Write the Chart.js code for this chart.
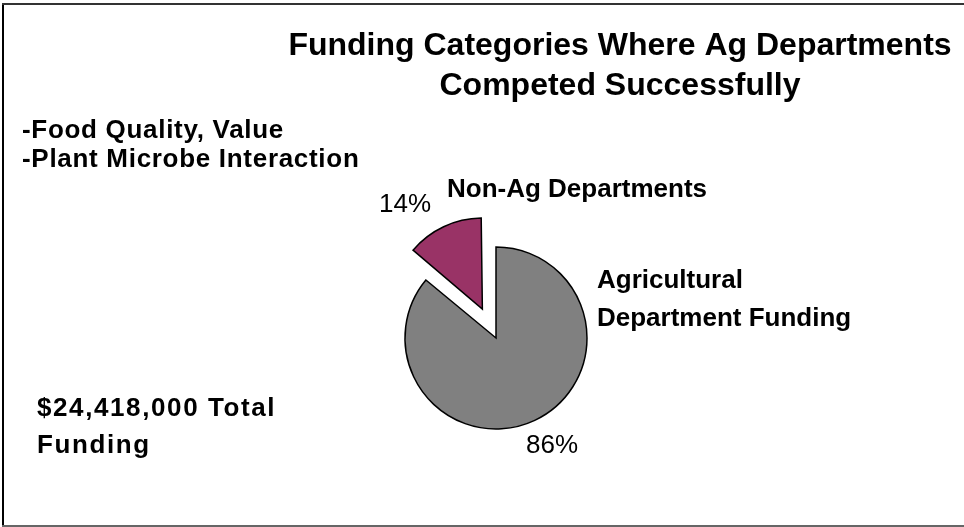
<!DOCTYPE html>
<html lang="en">
<head>
  <meta charset="UTF-8" />
  <title>Funding Categories</title>
  <style>
    html, body {
      margin: 0;
      padding: 0;
      background: #fff;
    }
    canvas {
      display: block;
    }
  </style>
  <script src="https://cdn.jsdelivr.net/npm/chart.js"></script>
</head>
<body>
  <canvas id="fundingChart" width="964" height="527"></canvas>

  <script>
    // Slice data
    const categories = ["Agricultural Department Funding", "Non-Ag Departments"];
    const shares = [86, 14];
    const sliceColors = ["#808080", "#993366"];
    const explode = [0, 128];  // pulled-out Non-Ag slice

    // Text on the slide
    const titleLines = ["Funding Categories Where Ag Departments", "Competed Successfully"];
    const focusAreas = ["-Food Quality, Value", "-Plant Microbe Interaction"];
    const totalLines = ["$24,418,000 Total", "Funding"];
    const sliceNames = [["Agricultural", "Department Funding"], ["Non-Ag Departments"]];

    const FONT = '"Liberation Sans", Arial, sans-serif';
    const PIE_RADIUS = 91;
    const LABEL_SIZE = 26;

    // where each text line sits: left x, middle y
    const focusPos = [[22, 131], [22, 160]];
    const totalPos = [[37, 409], [37, 446]];
    const namePos = [
      [[597, 281], [597, 319]],
      [[447, 190]]
    ];
    const percentPos = [[526, 446], [379, 205]];

    function drawText(ctx, text, x, y, bold, spacing) {
      ctx.save();
      ctx.font = (bold ? "bold " : "") + LABEL_SIZE + "px " + FONT;
      ctx.fillStyle = "#000";
      ctx.textBaseline = "middle";
      ctx.textAlign = "left";
      ctx.letterSpacing = (spacing || 0) + "px";
      ctx.fillText(text, x, y);
      ctx.restore();
    }

    // Chart.js grows an offset arc's radius a little; pull it back so both slices match
    const explodeRadius = {
      id: "explodeRadius",
      afterDatasetsUpdate(chart) {
        chart.getDatasetMeta(0).data.forEach(arc => {
          const off = (arc.options.offset || 0) / 4;
          if (!off) return;
          const fix = 1 - Math.sin(Math.min(Math.PI, arc.circumference));
          arc.outerRadius = PIE_RADIUS - off * fix;
        });
      }
    };

    const slideText = {
      id: "slideText",
      beforeDraw(chart) {
        const ctx = chart.ctx;
        ctx.save();
        // slide frame
        ctx.fillStyle = "#000";
        ctx.fillRect(2, 4, 2, 522);
        ctx.fillStyle = "#333";
        ctx.fillRect(2, 3, 962, 2);
        ctx.fillStyle = "#666";
        ctx.fillRect(2, 525, 962, 2);
        ctx.restore();
      },
      afterDraw(chart) {
        const ctx = chart.ctx;

        // title
        ctx.save();
        ctx.font = "bold 32px " + FONT;
        ctx.fillStyle = "#000";
        ctx.textAlign = "center";
        ctx.textBaseline = "middle";
        titleLines.forEach((line, i) => ctx.fillText(line, 620, 46 + i * 40));
        ctx.restore();

        focusAreas.forEach((t, i) => drawText(ctx, t, focusPos[i][0], focusPos[i][1], true, 0.7));
        totalLines.forEach((t, i) => drawText(ctx, t, totalPos[i][0], totalPos[i][1], true, 1.6));

        const total = shares.reduce((a, b) => a + b, 0);
        shares.forEach((v, i) => {
          sliceNames[i].forEach((t, j) => {
            const p = namePos[i][j];
            drawText(ctx, t, p[0], p[1], true, 0);
          });
          const p = percentPos[i];
          drawText(ctx, Math.round(v / total * 100) + "%", p[0], p[1], false, 0);
        });
      }
    };

    new Chart(document.getElementById("fundingChart"), {
      type: "pie",
      data: {
        labels: categories,
        datasets: [{
          data: shares,
          backgroundColor: sliceColors,
          borderColor: "#000",
          borderWidth: 1.5,
          borderJoinStyle: "miter",
          offset: explode,
          hoverOffset: 0
        }]
      },
      options: {
        responsive: false,
        devicePixelRatio: 1,
        animation: false,
        events: [],
        radius: PIE_RADIUS,
        layout: {
          padding: { left: 28, right: 0, top: 149, bottom: 0 }
        },
        plugins: {
          legend: { display: false },
          tooltip: { enabled: false }
        }
      },
      plugins: [explodeRadius, slideText]
    });
  </script>
</body>
</html>
